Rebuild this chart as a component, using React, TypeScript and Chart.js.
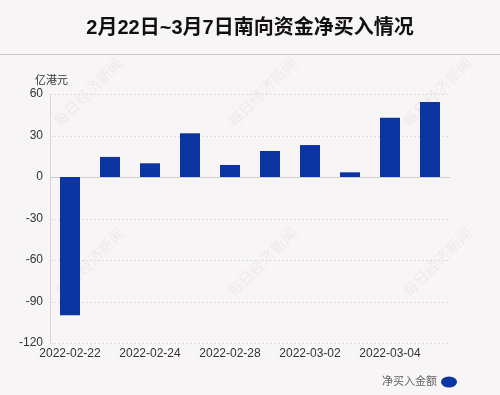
import React, { useEffect, useRef } from "react";
import { Chart, registerables } from "chart.js";

Chart.register(...registerables);

const categories = [
  "2022-02-22", "2022-02-23", "2022-02-24", "2022-02-25", "2022-02-28",
  "2022-03-01", "2022-03-02", "2022-03-03", "2022-03-04", "2022-03-07",
];
const netBuy = [-100, 14.5, 9.9, 31.6, 8.7, 18.8, 23.1, 3.4, 42.9, 54.2];
const yTicks = [60, 30, 0, -30, -60, -90, -120];
const titleText = "2月22日~3月7日南向资金净买入情况";
const unitText = "亿港元";
const seriesName = "净买入金额";
const watermarkText = "每日经济新闻";

const BG = "#f8f5f6";
const BAR = "#0d35a1";
const FONT = "'Liberation Sans', Arial, 'Noto Sans CJK SC', sans-serif";

const decorPlugin = {
  id: "decor",
  beforeDraw(chart: any) {
    const { ctx, width } = chart;
    ctx.save();
    ctx.fillStyle = BG;
    ctx.fillRect(0, 0, width, chart.height);
    // title
    ctx.fillStyle = "#111";
    ctx.font = `bold 20px ${FONT}`;
    ctx.textAlign = "center";
    ctx.textBaseline = "middle";
    ctx.fillText(titleText, width / 2, 28);
    // separator
    ctx.strokeStyle = "#c8c8c8";
    ctx.lineWidth = 1;
    ctx.beginPath();
    ctx.moveTo(0, 54.5);
    ctx.lineTo(width, 54.5);
    ctx.stroke();
    // unit
    ctx.fillStyle = "#333";
    ctx.font = `11px ${FONT}`;
    ctx.textAlign = "left";
    ctx.fillText(unitText, 35, 81);
    // watermarks
    ctx.fillStyle = "rgba(0,0,0,0.05)";
    ctx.font = `15px 'Noto Sans CJK SC', sans-serif`;
    ctx.textAlign = "center";
    const spots = [
      [88, 92], [262, 92], [437, 92],
      [90, 262], [262, 262], [437, 262],
    ];
    for (const [x, y] of spots) {
      ctx.save();
      ctx.translate(x, y);
      ctx.rotate(-Math.PI / 4);
      ctx.fillText(watermarkText, 0, 0);
      ctx.restore();
    }
    ctx.restore();
  },
  beforeDatasetsDraw(chart: any) {
    const { ctx, chartArea, scales } = chart;
    ctx.save();
    ctx.lineWidth = 1;
    for (const v of yTicks) {
      const y = Math.round(scales.y.getPixelForValue(v)) + 0.5;
      ctx.beginPath();
      if (v === 0) {
        ctx.setLineDash([]);
        ctx.strokeStyle = "#cfcfcf";
      } else {
        ctx.setLineDash([2, 2]);
        ctx.strokeStyle = "#dddddd";
      }
      ctx.moveTo(chartArea.left, y);
      ctx.lineTo(chartArea.right, y);
      ctx.stroke();
    }
    ctx.restore();
  },
  afterDraw(chart: any) {
    const { ctx } = chart;
    ctx.save();
    ctx.fillStyle = "#666";
    ctx.font = `11px ${FONT}`;
    ctx.textAlign = "right";
    ctx.textBaseline = "middle";
    ctx.fillText(seriesName, 437, 382);
    ctx.fillStyle = BAR;
    ctx.beginPath();
    ctx.ellipse(449, 382, 8, 5.5, 0, 0, Math.PI * 2);
    ctx.fill();
    ctx.restore();
  },
};

export default function App() {
  const ref = useRef<HTMLCanvasElement>(null);
  useEffect(() => {
    document.body.style.margin = "0";
    document.body.style.background = BG;
    const chart = new Chart(ref.current!, {
      type: "bar",
      data: {
        labels: categories,
        datasets: [
          {
            label: seriesName,
            data: netBuy,
            backgroundColor: BAR,
            barPercentage: 0.5,
            categoryPercentage: 1,
          },
        ],
      },
      options: {
        animation: false,
        responsive: false,
        devicePixelRatio: 1,
        layout: { padding: { left: 0, right: 50, top: 94, bottom: 32 } },
        plugins: {
          legend: { display: false },
          title: { display: false },
          tooltip: { enabled: false },
        },
        scales: {
          x: {
            grid: { display: false, drawTicks: false },
            border: { display: false },
            ticks: {
              autoSkip: false,
              maxRotation: 0,
              padding: 3,
              color: "#333",
              font: { size: 12, family: FONT },
              callback: (_v: any, i: number) => (i % 2 === 0 ? categories[i] : ""),
            },
            afterFit: (s: any) => {
              s.height = 20;
            },
          },
          y: {
            min: -120,
            max: 60,
            afterBuildTicks: (s: any) => {
              s.ticks = yTicks.map((v) => ({ value: v }));
            },
            grid: { display: false, drawTicks: false },
            border: { display: true, color: "#d6d6d6" },
            ticks: {
              padding: 7,
              color: "#333",
              font: { size: 12, family: FONT },
            },
            afterFit: (s: any) => {
              s.width = 50;
            },
          },
        },
      },
      plugins: [decorPlugin],
    });
    return () => chart.destroy();
  }, []);
  return (
    <div style={{ width: 500, height: 395 }}>
      <canvas ref={ref} width={500} height={395} style={{ display: "block" }} />
    </div>
  );
}
